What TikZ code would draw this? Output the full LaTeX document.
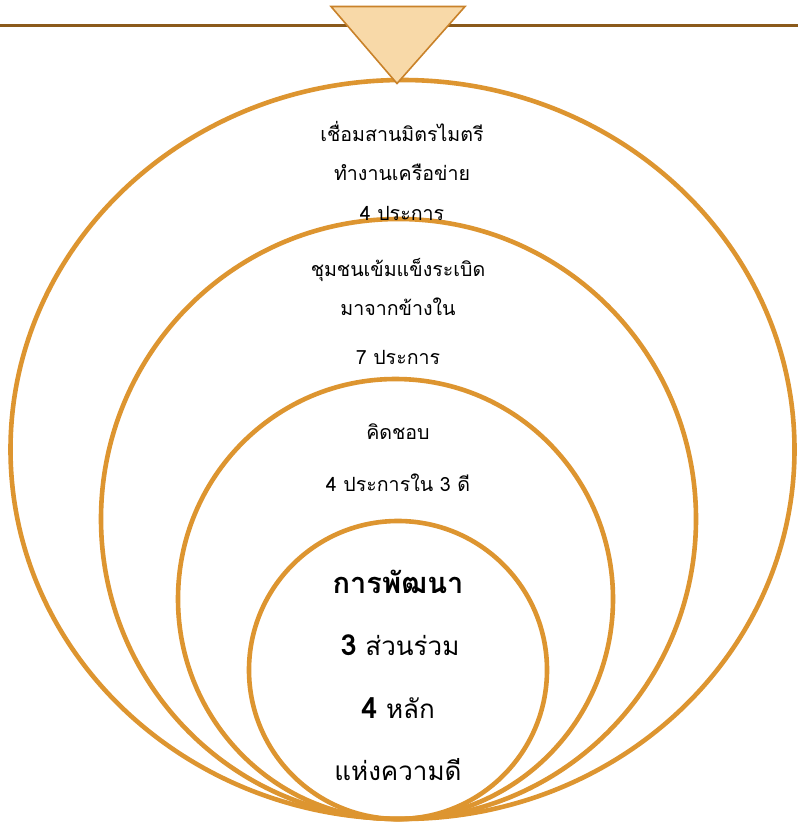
\documentclass[tikz,border=0pt]{standalone}
\usepackage{fontspec}
\newfontfamily\thaifont[Script=Thai]{Loma}
\definecolor{ring}{HTML}{DD9530}
\definecolor{topline}{HTML}{8B5A1B}
\definecolor{trifill}{HTML}{F8D9A8}
\definecolor{tridraw}{HTML}{C9822A}
\begin{document}
\begin{tikzpicture}[x=1pt,y=-1pt,
  ringline/.style={draw=ring,line width=4.6pt},
  smalltxt/.style={font=\thaifont\fontsize{19.6}{22}\selectfont,text=black,inner sep=0pt,anchor=center},
  bigtxt/.style={font=\thaifont\fontsize{26}{30}\selectfont,text=black,inner sep=0pt,anchor=center}]
\useasboundingbox (0,0) rectangle (798,824);
\fill[white] (0,0) rectangle (798,824);
% top line
\draw[topline,line width=2.2pt] (0,25.5) -- (798,25.5);
% rings
\draw[ringline] (402.5,449.5) ellipse [x radius=392,y radius=369.5];
\draw[ringline] (398.5,519) ellipse [x radius=297.5,y radius=300];
\draw[ringline] (395.5,599) ellipse [x radius=217.5,y radius=220];
\draw[ringline] (398,670) ellipse [x radius=149,y radius=149];
% triangle
\draw[fill=trifill,draw=tridraw,line width=1.6pt,line join=miter] (331,6.5) -- (465,6.5) -- (397,83.5) -- cycle;
% texts
\node[smalltxt] (a1) at (402,131) {เชื่อมสานมิตรไมตรี};
\node[smalltxt] (a2) at (402,172) {ทำงานเครือข่าย};
\node[smalltxt] (a3) at (402,213) {4 ประการ};
\node[smalltxt] (b1) at (398,270) {ชุมชนเข้มแข็งระเบิด};
\node[smalltxt] (b2) at (398,307) {มาจากข้างใน};
\node[smalltxt] (b3) at (398,357) {7 ประการ};
\node[smalltxt] (c1) at (398,432) {คิดชอบ};
\node[smalltxt] (c2) at (398,483) {4 ประการใน 3 ดี};
\node[bigtxt,font=\thaifont\bfseries\fontsize{29}{33}\selectfont] (d1) at (398,582) {การพัฒนา};
\node[bigtxt] (d2) at (400,645) {{\fontsize{29}{33}\selectfont\bfseries 3} ส่วนร่วม};
\node[bigtxt] (d3) at (398,708) {{\fontsize{29}{33}\selectfont\bfseries 4} หลัก};
\node[bigtxt] (d4) at (398,770) {แห่งความดี};
\end{tikzpicture}
\end{document}
